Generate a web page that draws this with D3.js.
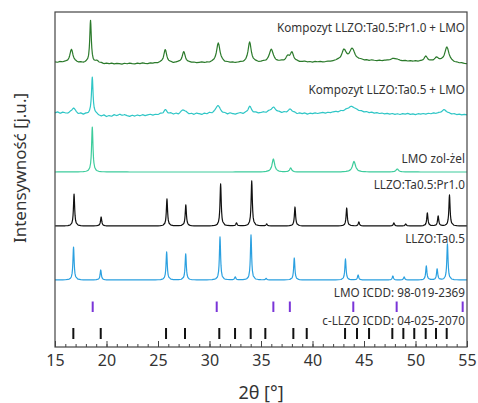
<!DOCTYPE html>
<html>
<head>
<meta charset="utf-8">
<script src="https://cdn.jsdelivr.net/npm/d3@7"></script>
<style>
  body { margin: 0; background: #fff; }
  text { font-family: "Noto Sans", sans-serif; fill: #333; }
</style>
</head>
<body>
<div id="container"></div>
<script>
let w = 478;
let h = 403;

// background (noise) of the composite patterns, sampled every 0.25 deg from 15 deg
let theta0 = 15;
let thetaStep = 0.25;

// peaks: [2theta, height, half width]  (height in a.u.)
let peaksPr = [[16.6, 13, 0.18], [18.45, 42, 0.09], [19.1, 2, 0.2], [25.7, 13, 0.17], [27.5, 11, 0.18],
  [30.85, 20, 0.2], [33.9, 20.5, 0.18], [36.0, 12.5, 0.22], [37.6, 5, 0.2], [38.0, 9, 0.2],
  [43.05, 10.5, 0.25], [43.85, 11.5, 0.3], [47.9, 2.5, 0.4], [51.0, 5, 0.2], [52.05, 4, 0.25], [53.05, 15, 0.25]];
let bgPr = [1, 0.5, 1.2, 0.6, 1,
  0.4, 0.8, 0.2, 0.6, 0, 0.5, -0.2, 0.3,
  0, 0.4, -0.3, 0.2,
  -0.6, -0.2, -1, -0.4, -0.9, -0.3, -1.1, -0.5, -0.8, -1.2, -0.4, -0.9, -0.2, -0.8, -1, -0.3, -0.7, -0.1, -0.6, -0.9, -0.2, -0.5, 0, -0.4,
  0.2, -0.3, 0.4, -0.1, 0.3, -0.4, 0.1, 0.5, -0.2, 0.2, -0.3, 0.3, 0, 0.4, -0.2, 0.2, 0.6, 0, 0.3, -0.2,
  0.4, 0.1, -0.3, 0.2, 0.5, -0.1, 0.3, 0, 0.4, -0.2, 0.2, 0.5, 0, 0.3, 0.6, 0.1, 0.4, 0.8, 0.3, 0.6,
  1.2, 0.7, 1.3, 0.9, 1.4, 0.8, 1.1, 1.5, 0.9, 1.2, 0.6, 1.1, 0.8, 1.3, 0.7, 1.0, 1.4, 0.8, 1.1, 0.6,
  1.2, 0.9, 1.3, 0.8, 1.0, 1.4, 1.1, 1.5,
  1.8, 2.2, 1.6, 2.0, 2.4, 1.9, 2.3, 2.6, 2.0, 2.5, 2.8, 2.2, 2.6, 2.1, 2.7, 2.3, 2.0, 2.5, 1.9, 2.2,
  2.3, 1.8, 2.2, 1.9, 2.4, 2.0, 1.7, 2.1, 1.6, 2.0, 1.5, 1.8, 1.3, 1.6,
  1.2, 1.5, 1.0, 1.3, 0.8, 1.1, 0.7, 1.0, 0.5, 0.8, 0.2, 0.4, -0.2, 0.1, -0.5, -0.2, -0.8, -1.0];

let peaksTa = [[16.8, 6, 0.2], [18.62, 37, 0.09], [21.4, 1.5, 0.3], [25.7, 4, 0.2], [27.45, 4, 0.25],
  [30.8, 9, 0.25], [33.9, 7, 0.2], [36.2, 5, 0.3], [37.85, 4, 0.25], [43.8, 5, 0.5], [52.8, 4, 0.3]];
let bgTa = [1, 2, 0.5, 1.6, 0.8,
  0.2, 1.2, -0.3, 0.6, -0.5, 0.4, -0.8, 0.2,
  -0.4, 0.3, -0.9, -0.2,
  -1.5, -2.4, -1.2, -2.8, -1.8, -2.5, -1.0, -2.2, -1.6, -2.7, -1.3, -2.0, -2.6, -1.4, -2.2, -1.1, -1.9, -0.8, -1.7, -1.0, -0.4, -1.3, -0.5, -0.9,
  0.2, -0.8, 0.5, -0.4, 0.7, -0.6, 0.3, -0.9, 0.4, -0.2, 0.8, -0.5, 0.2, -0.7, 0.6, 0, -0.8, 0.5, -0.3, 0.9,
  -0.4, 0.2, -0.9, 0.6, -0.2, 0.4, -0.6, 0.7, 0, -0.5, 0.3, 1.0, -0.2, 0.6, 0.1, 0.9, 0.3, 1.2, 0.5, 1.0,
  1.6, 0.8, 2.0, 1.2, 1.8, 0.9, 1.5, 0.6, 1.4, 0.5, 1.1, 0.2, 0.9, -0.2, 0.7, 0.1, 0.8, -0.3, 0.6, 0.2,
  1.0, 0.3, 0.9, 1.4, 0.7, 1.5, 1.0, 1.8,
  2.2, 1.5, 2.6, 2.0, 2.9, 2.3, 2.8, 2.1, 2.5, 1.8, 2.3, 1.4, 1.9, 1.0, 1.5, 0.6, 1.1, 0.3, 0.8, 0,
  0.5, -0.3, 0.4, -0.5, 0.2, -0.6, 0.3, -0.2, 0.5, -0.4, 0.1, -0.7, 0.2, -0.3,
  0.4, -0.2, 0.6, 0, 0.8, 0.2, 0.7, 0.1, 0.5, -0.3, 0.2, -0.5, 0, -0.8, -0.3, -1.0, -0.5, -0.9];

let peaksLmo = [[18.62, 45, 0.08], [36.2, 13, 0.15], [37.88, 4, 0.12], [44.03, 10.5, 0.18], [48.23, 3, 0.15]];

let peaksLlzoPr = [[16.85, 32, 0.07], [19.48, 9, 0.07], [25.87, 27, 0.07], [27.7, 21, 0.07], [31.08, 42, 0.07],
  [32.62, 3, 0.07], [34.1, 45, 0.07], [35.55, 2, 0.07], [38.3, 19, 0.07], [43.32, 18, 0.07], [44.5, 4, 0.07],
  [47.9, 3, 0.07], [49.05, 2, 0.07], [51.15, 13, 0.07], [52.2, 10, 0.07], [53.3, 31, 0.07]];

let peaksLlzo = [[16.8, 33, 0.07], [19.44, 10, 0.07], [25.84, 28, 0.07], [27.69, 26, 0.07], [31.02, 43, 0.07],
  [32.5, 3, 0.07], [34.03, 45, 0.07], [35.5, 1.5, 0.07], [38.23, 22, 0.07], [43.2, 21, 0.07], [44.43, 5, 0.07],
  [47.8, 4, 0.07], [48.9, 3, 0.07], [51.05, 14, 0.07], [52.1, 11, 0.07], [53.1, 36, 0.07]];

// reference cards
let refLmo = [18.66, 30.7, 36.2, 37.8, 43.96, 48.17, 54.58];
let refLlzo = [16.78, 19.44, 25.78, 27.62, 30.95, 32.48, 34.0, 35.42, 38.14, 39.44, 43.16, 44.32, 45.49,
  47.75, 48.82, 49.88, 50.99, 51.99, 53.03];

// vertical offsets of the stacked patterns (a.u.)
let offsets = [284, 233, 175, 121, 67];
let names = ["Kompozyt LLZO:Ta0.5:Pr1.0 + LMO", "Kompozyt LLZO:Ta0.5 + LMO", "LMO zol-żel", "LLZO:Ta0.5:Pr1.0", "LLZO:Ta0.5"];
let labelLevels = [315, 253, 184, 158, 104];
let colors = ["#2b7a2b", "#2fc6c6", "#3dcc9c", "#111111", "#2ba0e0"];

let refNames = ["LMO ICDD: 98-019-2369", "c-LLZO ICDD: 04-025-2070"];
let refLabelLevels = [50, 22];
let refBase = [35, 8];
let refLen = [10.5, 11];

let xTicks = d3.range(15, 56, 5);

let viz = d3.select("#container")
  .append("svg")
  .attr("width", w)
  .attr("height", h);

let x = d3.scaleLinear().domain([15, 55]).range([55, 467]);
let y = d3.scaleLinear().domain([0, 335]).range([347, 12]);

function lorentz(t, p) {
  return p[1] / (1 + ((t - p[0]) / p[2]) ** 2);
}

function buildSeries(peaks, bg) {
  let ts = d3.range(161).map(i => theta0 + i * thetaStep);
  peaks.forEach(p => {
    [-6, -3, -2, -1.4, -1, -0.6, -0.3, 0, 0.3, 0.6, 1, 1.4, 2, 3, 6].forEach(k => ts.push(p[0] + k * p[2]));
  });
  ts = ts.filter(t => t >= 15 && t <= 55).sort((a, b) => a - b);
  return ts.map(t => {
    let b = 0;
    if (bg) {
      let f = (t - theta0) / thetaStep;
      let i = Math.min(Math.floor(f), bg.length - 2);
      b = bg[i] + (bg[i + 1] - bg[i]) * (f - i);
    }
    return [t, b + d3.sum(peaks, p => lorentz(t, p))];
  });
}

let series = [
  buildSeries(peaksPr, bgPr),
  buildSeries(peaksTa, bgTa),
  buildSeries(peaksLmo, null),
  buildSeries(peaksLlzoPr, null),
  buildSeries(peaksLlzo, null)
];

let plot = viz.append("g");

series.forEach((s, i) => {
  let line = d3.line()
    .x(d => x(d[0]))
    .y(d => y(d[1] + offsets[i]));
  plot.append("path")
    .datum(s)
    .attr("d", line)
    .attr("fill", "none")
    .attr("stroke", colors[i])
    .attr("stroke-width", 1.2)
    .attr("stroke-linejoin", "round");
  plot.append("text")
    .attr("x", x(54.8))
    .attr("y", y(labelLevels[i]))
    .attr("text-anchor", "end")
    .attr("font-size", 11.7)
    .text(names[i]);
});

// reference sticks
[refLmo, refLlzo].forEach((ref, i) => {
  plot.selectAll(".ref" + i).data(ref).enter()
    .append("line")
    .attr("class", "ref" + i)
    .attr("x1", d => x(d))
    .attr("x2", d => x(d))
    .attr("y1", y(refBase[i]))
    .attr("y2", y(refBase[i] + refLen[i]))
    .attr("stroke", i === 0 ? "#7a35d8" : "#111")
    .attr("stroke-width", 2);
  plot.append("text")
    .attr("x", x(54.8))
    .attr("y", y(refLabelLevels[i]))
    .attr("text-anchor", "end")
    .attr("font-size", 11.7)
    .text(refNames[i]);
});

// axes
let minorAxis = d3.axisBottom(x).tickValues(d3.range(15, 56, 1)).tickSize(-3).tickFormat("");
let majorAxis = d3.axisBottom(x).tickValues(xTicks).tickSize(-6).tickPadding(8);

viz.append("g").attr("transform", "translate(0,347)").call(minorAxis)
  .call(g => g.select(".domain").remove())
  .selectAll("line").attr("stroke", "#444");
let xg = viz.append("g").attr("transform", "translate(0,347)").call(majorAxis);
xg.select(".domain").remove();
xg.selectAll("line").attr("stroke", "#444");
xg.selectAll("text")
  .attr("font-size", 16)
  .attr("font-family", "Noto Sans, sans-serif")
  .attr("fill", "#333");

viz.append("rect")
  .attr("x", 55)
  .attr("y", 12)
  .attr("width", 412)
  .attr("height", 335)
  .attr("fill", "none")
  .attr("stroke", "#444")
  .attr("stroke-width", 1.2);

viz.append("text")
  .attr("x", 261)
  .attr("y", 399)
  .attr("text-anchor", "middle")
  .attr("font-size", 18)
  .text("2θ [°]");

viz.append("text")
  .attr("transform", "translate(26,168) rotate(-90)")
  .attr("text-anchor", "middle")
  .attr("font-size", 17)
  .text("Intensywność [j.u.]");
</script>
</body>
</html>
